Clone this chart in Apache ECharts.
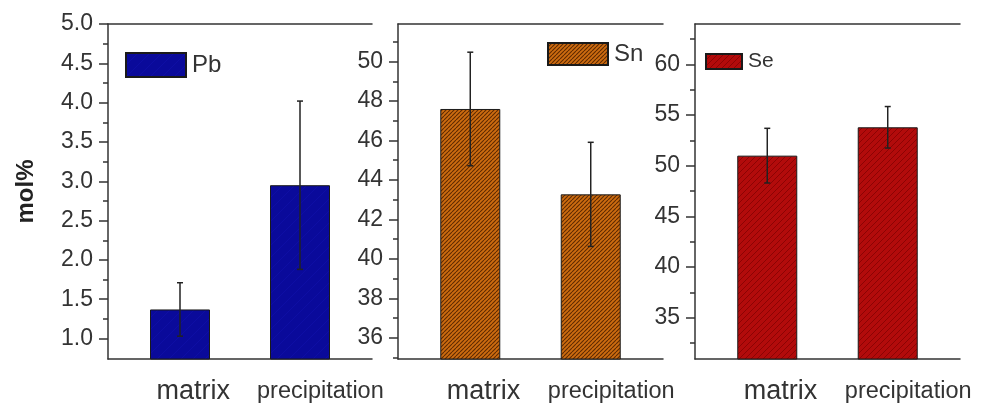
<!DOCTYPE html>
<html>
<head>
<meta charset="utf-8">
<style>
  html, body { margin: 0; padding: 0; background: #fff; }
  #chart { width: 982px; height: 410px; }
</style>
<script src="https://cdn.jsdelivr.net/npm/echarts@6/dist/echarts.min.js"></script>
</head>
<body>
<div id="chart"></div>
<script>
// Composition of the three elements, matrix vs. precipitation
const categories = ['matrix', 'precipitation'];

const pbValues = [1.37, 2.95];
const pbErrors = [0.34, 1.07];
const snValues = [47.6, 43.27];
const snErrors = [2.88, 2.64];
const seValues = [51.0, 53.8];
const seErrors = [2.7, 2.05];

const pbTicks = [1.0, 1.5, 2.0, 2.5, 3.0, 3.5, 4.0, 4.5, 5.0];
const pbMinorTicks = [1.25, 1.75, 2.25, 2.75, 3.25, 3.75, 4.25, 4.75];
const snTicks = [36, 38, 40, 42, 44, 46, 48, 50];
const snMinorTicks = [35, 37, 39, 41, 43, 45, 47, 49, 51];
const seTicks = [35, 40, 45, 50, 55, 60];
const seMinorTicks = [32.5, 37.5, 42.5, 47.5, 52.5, 57.5, 62.5];

const pbRange = [0.74, 5.0];
const snRange = [34.92, 51.91];
const seRange = [30.92, 64.0];

// category labels sit a little right of their bars (in x-axis units)
const labelNudge = [0.11, 0.17];

// diagonal hatch fill used for the bars
function hatch(bg, line, size, lw) {
  const c = document.createElement('canvas');
  c.width = size; c.height = size;
  const g = c.getContext('2d');
  g.fillStyle = bg;
  g.fillRect(0, 0, size, size);
  g.strokeStyle = line;
  g.lineWidth = lw;
  g.beginPath();
  for (let k = -1; k <= 1; k++) {
    g.moveTo(k * size, size);
    g.lineTo(k * size + size, 0);
  }
  g.stroke();
  return { image: c, repeat: 'repeat' };
}

const FONT = 'Liberation Sans';
const TEXT = '#333';
const AXIS = '#333';

const panels = [
  { name: 'Pb', values: pbValues, errors: pbErrors, ticks: pbTicks, minor: pbMinorTicks, range: pbRange,
    fill: hatch('#0a0a9a', '#0e0ea4', 12, 1), digits: 1,
    left: 108, width: 264,
    legend: { left: 125, top: 52, itemWidth: 60, itemHeight: 24, fontSize: 24 } },
  { name: 'Sn', values: snValues, errors: snErrors, ticks: snTicks, minor: snMinorTicks, range: snRange,
    fill: hatch('#cd6c10', '#5e2a02', 4, 1.1), digits: 0,
    left: 398, width: 265,
    legend: { left: 547, top: 42, itemWidth: 60, itemHeight: 22, fontSize: 24 } },
  { name: 'Se', values: seValues, errors: seErrors, ticks: seTicks, minor: seMinorTicks, range: seRange,
    fill: hatch('#b20b0b', '#8c0303', 6, 1), digits: 0,
    left: 695, width: 265,
    legend: { left: 705, top: 51, itemWidth: 36, itemHeight: 15, fontSize: 21 } }
];

const labelAt = categories.map((c, k) => k + 1 + labelNudge[k]);

const grid = [], xAxis = [], yAxis = [], series = [], legend = [];

panels.forEach((p, i) => {
  grid.push({ left: p.left, width: p.width, top: 24, bottom: 51, containLabel: false });

  // bottom category axis (categories sit at 1 and 2)
  xAxis.push({
    type: 'value', gridIndex: i, min: 0.4, max: 2.6,
    axisLine: { show: true, onZero: false, lineStyle: { color: AXIS, width: 1.5 } },
    axisTick: { show: false },
    splitLine: { show: false },
    axisLabel: {
      customValues: labelAt,
      margin: 19,
      formatter: v => {
        let k = 0;
        labelAt.forEach((a, j) => { if (Math.abs(a - v) < Math.abs(labelAt[k] - v)) k = j; });
        return (k === 0 ? '{m|' : '{p|') + categories[k] + '}';
      },
      rich: {
        m: { fontFamily: FONT, fontSize: 27, color: TEXT, lineHeight: 27 },
        p: { fontFamily: FONT, fontSize: 23.5, color: TEXT, lineHeight: 27 }
      }
    }
  });
  // top frame line
  xAxis.push({
    type: 'value', gridIndex: i, position: 'top', min: 0.4, max: 2.6,
    axisLine: { show: true, onZero: false, lineStyle: { color: AXIS, width: 1.5 } },
    axisTick: { show: false }, axisLabel: { show: false }, splitLine: { show: false }
  });

  // major ticks and labels
  yAxis.push({
    type: 'value', gridIndex: i, min: p.range[0], max: p.range[1], position: 'left',
    name: i === 0 ? 'mol%' : '',
    nameLocation: 'middle', nameGap: 70, nameRotate: 90,
    nameTextStyle: { fontFamily: FONT, fontSize: 24, fontWeight: 'bold', color: '#222' },
    axisLine: { show: true, onZero: false, lineStyle: { color: AXIS, width: 1.5 } },
    axisTick: { show: true, customValues: p.ticks, length: 9, lineStyle: { color: AXIS, width: 1.5 } },
    splitLine: { show: false },
    axisLabel: {
      customValues: p.ticks, margin: 15,
      fontFamily: FONT, fontSize: 23, color: TEXT,
      formatter: v => v.toFixed(p.digits)
    }
  });
  // minor ticks
  yAxis.push({
    type: 'value', gridIndex: i, min: p.range[0], max: p.range[1], position: 'left',
    axisLine: { show: false, onZero: false },
    axisTick: { show: true, customValues: p.minor, length: 5, lineStyle: { color: AXIS, width: 1.5 } },
    axisLabel: { show: false }, splitLine: { show: false }
  });

  series.push({
    name: p.name, type: 'bar',
    xAxisIndex: i * 2, yAxisIndex: i * 2,
    barWidth: 60, clip: true,
    itemStyle: { color: p.fill, borderColor: '#1a1a1a', borderWidth: 1 },
    data: p.values.map((v, k) => [k + 1, v]),
    z: 2
  });
  series.push({
    name: p.name + ' error', type: 'custom',
    xAxisIndex: i * 2, yAxisIndex: i * 2,
    z: 5,
    data: p.values.map((v, k) => [k + 1, v, p.errors[k]]),
    renderItem: (params, api) => {
      const x = api.value(0), v = api.value(1), e = api.value(2);
      const hi = api.coord([x, v + e]);
      const lo = api.coord([x, v - e]);
      const st = { stroke: '#222', lineWidth: 1.5 };
      const cap = 3;
      return {
        type: 'group',
        children: [
          { type: 'line', shape: { x1: hi[0], y1: hi[1], x2: lo[0], y2: lo[1] }, style: st },
          { type: 'line', shape: { x1: hi[0] - cap, y1: hi[1], x2: hi[0] + cap, y2: hi[1] }, style: st },
          { type: 'line', shape: { x1: lo[0] - cap, y1: lo[1], x2: lo[0] + cap, y2: lo[1] }, style: st }
        ]
      };
    }
  });

  legend.push({
    data: [p.name], left: p.legend.left, top: p.legend.top,
    icon: 'rect', itemWidth: p.legend.itemWidth, itemHeight: p.legend.itemHeight,
    itemGap: 0, padding: 0,
    textStyle: { fontFamily: FONT, fontSize: p.legend.fontSize, color: TEXT, padding: [0, 0, 0, 1] },
    selectedMode: false
  });
});

const chart = echarts.init(document.getElementById('chart'), null, { renderer: 'canvas' });
chart.setOption({
  animation: false,
  backgroundColor: '#fff',
  grid, xAxis, yAxis, series, legend
});
</script>
</body>
</html>
